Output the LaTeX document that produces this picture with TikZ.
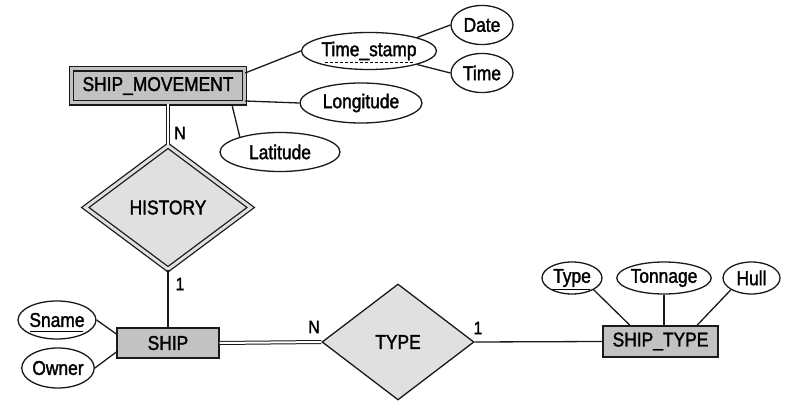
\documentclass[tikz,border=0pt]{standalone}
\usepackage{fontspec}
\setmainfont{Liberation Sans}[FakeStretch=0.87,FakeBold=1.6]
\usetikzlibrary{shapes.geometric}
\begin{document}
\begin{tikzpicture}[x=1pt,y=-1pt,
  every node/.style={font=\fontsize{20}{22}\selectfont, inner sep=0pt},
  ln/.style={line width=1.3pt, draw=black!90},
  entity/.style={rectangle, ln, fill=black!24},
  wentity/.style={rectangle, ln, fill=black!24, double=black!24, double distance=3pt},
  attr/.style={ellipse, ln, fill=white},
  rel/.style={diamond, ln, fill=black!12},
  wrel/.style={diamond, ln, fill=black!12, double=black!12, double distance=3pt},
  conn/.style={line width=1.3pt, draw=black!90},
  dconn/.style={line width=1pt, draw=black!90, double=white, double distance=2pt},
  card/.style={font=\fontsize{18}{20}\selectfont}
]
\useasboundingbox (0,0) rectangle (785,403);

% entities
\node[wentity, minimum width=173pt, minimum height=34pt] (sm) at (158,86) {SHIP\_MOVEMENT};
\node[entity, minimum width=102pt, minimum height=30pt] (ship) at (168,343) {SHIP};
\node[entity, minimum width=115pt, minimum height=31pt] (st) at (660.5,341.5) {SHIP\_TYPE};

% relationships
\node[wrel, minimum width=166pt, minimum height=124pt] (hist) at (168,207.5) {HISTORY};
\node[rel, minimum width=152pt, minimum height=116pt] (type) at (398,342) {TYPE};

% attributes
\node[attr, minimum width=135pt, minimum height=37pt] (ts) at (369,51) {Time\_stamp};
\node[attr, minimum width=62pt, minimum height=39pt] (date) at (482,25) {Date};
\node[attr, minimum width=62pt, minimum height=39pt] (time) at (482,73) {Time};
\node[attr, minimum width=122pt, minimum height=40pt] (lon) at (361,103) {Longitude};
\node[attr, minimum width=120pt, minimum height=39pt] (lat) at (280,152) {Latitude};
\node[attr, minimum width=72pt, minimum height=38pt] (sname) at (57,320) {Sname};
\node[attr, minimum width=68pt, minimum height=40pt] (owner) at (58,368) {Owner};
\node[attr, minimum width=60pt, minimum height=32pt] (tp) at (572,278) {Type};
\node[attr, minimum width=88pt, minimum height=32pt] (ton) at (664,278) {Tonnage};
\node[attr, minimum width=57pt, minimum height=32pt] (hull) at (751.5,278) {Hull};

% key underlines
\draw[line width=0.8pt, dashed, dash pattern=on 3pt off 2pt] (ts.center) ++(-44,11) -- ++(88,0);
\draw[line width=0.9pt] (sname.center) ++(-27,11) -- ++(53,0);
\draw[line width=0.9pt] (tp.center) ++(-20,11) -- ++(38,0);

% attribute connectors
\coordinate (smts) at (246,73);
\coordinate (smlon) at (246,101);
\coordinate (smlat) at (232,105);
\draw[conn] (sm.north east |- smts) -- (ts.west);
\draw[conn] (sm.east |- smlon) -- (lon.west);
\draw[conn] (smlat) -- (lat.north west -| 240,0);
\draw[conn] (ts.north east) -- (date.west);
\draw[conn] (ts.south east) -- (time.west);
\draw[conn] (sname.east) -- (ship.north west |- 0,334);
\draw[conn] (owner.east) -- (ship.south west |- 0,352);
\draw[conn] (tp.south east) -- (st.north -| 630,0);
\draw[conn] (ton.south) -- (st.north -| ton.south);
\draw[conn] (hull.south west) -- (st.north -| 697,0);

% relationship connectors
\draw[dconn] (hist.north) -- (hist.north |- sm.south);
\draw[conn] (hist.south) -- (ship.north);
\draw[dconn] (ship.east) -- (type.west);
\draw[conn] (type.east) -- (st.west);

% cardinalities
\node[card] (c1) at (180,133) {N};
\node[card] (c2) at (180,284) {1};
\node[card] (c3) at (314,327) {N};
\node[card] (c4) at (478,328) {1};
\end{tikzpicture}
\end{document}
